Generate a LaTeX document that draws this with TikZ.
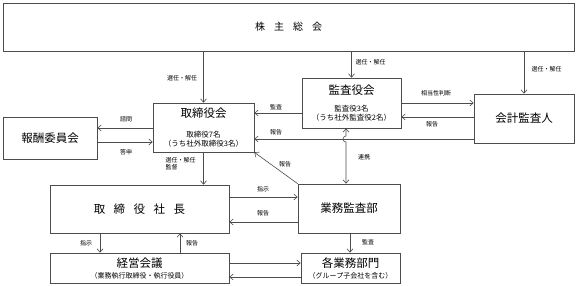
\documentclass[tikz,border=0pt]{standalone}
\usepackage{fontspec}
\setmainfont{Noto Sans CJK JP}
\usetikzlibrary{arrows.meta,positioning,calc}

\begin{document}
\begin{tikzpicture}[x=1pt, y=-1pt,
    >={Straight Barb[length=3.5pt,width=6pt]},
    orgbox/.style={rectangle, draw=black!70, line width=0.6pt, fill=white, inner sep=0pt, align=center, font=\fontsize{11.5}{14}\selectfont},
    subbox/.style={orgbox, font=\fontsize{7.5}{9}\selectfont},
    lbl/.style={font=\fontsize{6}{7}\selectfont, inner sep=0.5pt, align=left},
    parrow/.style={->, line width=0.6pt, black!70}
  ]
    \useasboundingbox (0,0) rectangle (576,285);

    \node[orgbox, minimum width=571pt, minimum height=48pt, font=\fontsize{10}{12}\selectfont] (soukai) at (288.5,27) {株\hspace{9pt}主\hspace{9pt}総\hspace{9pt}会};
    \node[subbox, minimum width=101pt, minimum height=49pt] (torikai) at (203.5,127.5) {
      {\fontsize{11.5}{14}\selectfont 取締役会}\\[11pt]
      取締役7名\\
      （うち社外取締役3名）
    };
    \node[orgbox, minimum width=94pt, minimum height=42pt] (houshu) at (50,138) {報酬委員会};
    \node[subbox, minimum width=99pt, minimum height=50pt] (kansakai) at (351.5,103) {
      {\fontsize{11.5}{14}\selectfont 監査役会}\\[8pt]
      監査役3名\\
      （うち社外監査役2名）
    };
    \node[orgbox, minimum width=100pt, minimum height=49pt] (kaikei) at (524,118.5) {会計監査人};
    \node[orgbox, minimum width=179pt, minimum height=48pt] (shacho) at (139.5,209) {取\hspace{8.5pt}締\hspace{8.5pt}役\hspace{8.5pt}社\hspace{8.5pt}長};
    \node[subbox, minimum width=179pt, minimum height=30pt, font=\fontsize{7}{9}\selectfont] (keiei) at (139.5,268) {
      {\fontsize{11.5}{14}\selectfont 経営会議}\\[2pt]
      （業務執行取締役・執行役員）
    };
    \node[orgbox, minimum width=102pt, minimum height=49pt] (gyokan) at (349,208.5) {業務監査部};
    \node[subbox, minimum width=99pt, minimum height=30pt, font=\fontsize{7}{9}\selectfont] (bumon) at (350.5,268) {
      {\fontsize{11.5}{14}\selectfont 各業務部門}\\[2pt]
      （グループ子会社を含む）
    };

    \draw[parrow] (soukai.south -| torikai.north) -- (torikai.north);
    \draw[parrow] (soukai.south -| kansakai.north) -- (kansakai.north);
    \draw[parrow] (soukai.south -| kaikei.north) -- (kaikei.north);
    \draw[parrow] (kansakai.east) -- (kansakai.east -| kaikei.west);
    \draw[parrow] (kaikei.west |- 0,117) -- (kansakai.east |- 0,117);
    \draw[parrow] (kansakai.west |- 0,113) -- (torikai.east |- 0,113);
    \draw[parrow] (kaikei.west |- 0,139) -- (torikai.east |- 0,139);
    \draw[parrow, <->] (gyokan.north -| 346,0) -- (346,142) arc[start angle=-90, end angle=-270, radius=3pt] -- (kansakai.south -| 346,0);
    \draw[parrow] (gyokan.north west) -- (torikai.south east);
    \draw[parrow] (torikai.west |- 0,128) -- (houshu.east |- 0,128);
    \draw[parrow] (houshu.east |- 0,142) -- (torikai.west |- 0,142);
    \draw[parrow] (torikai.south) -- (torikai.south |- shacho.north);
    \draw[parrow] (shacho.east |- 0,197) -- (gyokan.west |- 0,197);
    \draw[parrow] (gyokan.west |- 0,222) -- (shacho.east |- 0,222);
    \draw[parrow] (shacho.south -| 100,0) -- (keiei.north -| 100,0);
    \draw[parrow] (keiei.north -| 180,0) -- (shacho.south -| 180,0);
    \draw[parrow] (keiei.east |- 0,263) -- (bumon.west |- 0,263);
    \draw[parrow] (bumon.west |- 0,277) -- (keiei.east |- 0,277);
    \draw[parrow] (gyokan.south -| 350,0) -- (bumon.north -| 350,0);

    \node[lbl] (sen1) at (182,78) {選任・解任};
    \node[lbl, anchor=west] (sen2) at (355,62) {選任・解任};
    \node[lbl, anchor=west] (sen3) at (531,69) {選任・解任};
    \node[lbl] (soutou) at (436,93) {相当性判断};
    \node[lbl] (hou1) at (432,124) {報告};
    \node[lbl] (kan1) at (276,107) {監査};
    \node[lbl] (hou2) at (276,132) {報告};
    \node[lbl] (hou3) at (285,164) {報告};
    \node[lbl] (renkei) at (364,157) {連携};
    \node[lbl] (shimon) at (126,119) {諮問};
    \node[lbl] (toshin) at (126,152) {答申};
    \node[lbl, anchor=north west] (sen4) at (165,157) {選任・解任\\監督};
    \node[lbl] (shiji1) at (263,189) {指示};
    \node[lbl] (hou4) at (263,213) {報告};
    \node[lbl] (shiji2) at (86,243) {指示};
    \node[lbl] (hou5) at (192,243) {報告};
    \node[lbl] (kan2) at (368,242) {監査};
  \end{tikzpicture}
\end{document}
